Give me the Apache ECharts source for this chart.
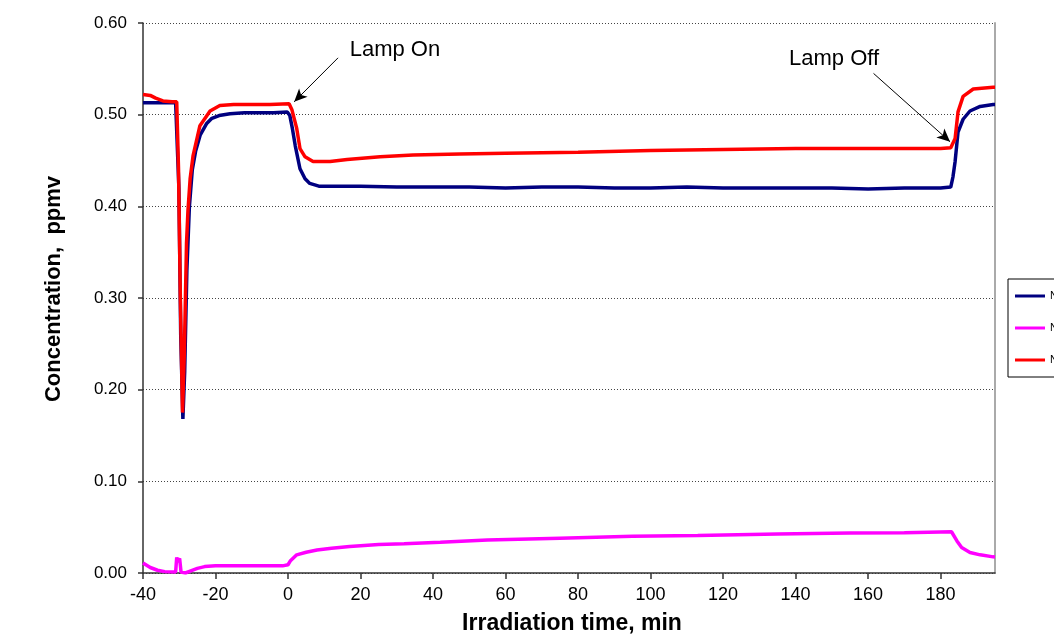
<!DOCTYPE html>
<html>
<head>
<meta charset="utf-8">
<script src="https://cdn.jsdelivr.net/npm/echarts@6/dist/echarts.min.js"></script>
<style>html,body{margin:0;padding:0;background:#fff;}#c{width:1054px;height:640px;}</style>
</head>
<body>
<div id="c"></div>
<script>
const seriesNames = ['NO', 'NO2', 'NOx'];
const xTicks = { min: -40, max: 195, interval: 20 };
const yTicks = { min: 0, max: 0.6, interval: 0.1 };

const NO = [[-40,0.513],[-35,0.513],[-31,0.513],[-30.6,0.513],[-30.1,0.42],[-29.6,0.26],[-29.0,0.168],[-28.5,0.22],[-27.9,0.33],[-27.2,0.40],[-26.4,0.44],[-25.5,0.46],[-24.2,0.478],[-22.5,0.49],[-21,0.496],[-19,0.499],[-16,0.501],[-12,0.502],[-8,0.502],[-4,0.502],[-0.2,0.503],[0.5,0.499],[1.2,0.485],[2,0.466],[3.3,0.441],[4.7,0.430],[6,0.425],[8.5,0.422],[12,0.422],[20,0.422],[30,0.421],[40,0.421],[50,0.421],[60,0.420],[70,0.421],[80,0.421],[90,0.420],[100,0.420],[110,0.421],[120,0.420],[130,0.420],[140,0.420],[150,0.420],[160,0.419],[170,0.420],[180,0.420],[182.8,0.421],[183.4,0.432],[184,0.449],[184.8,0.481],[186.2,0.495],[188.1,0.504],[190.9,0.509],[194.5,0.511],[195,0.511]];

const NO2 = [[-40,0.011],[-38,0.006],[-36,0.003],[-34,0.0015],[-31,0.001],[-30.7,0.017],[-30.4,0.012],[-30.2,0.010],[-29.9,0.016],[-29.5,0.001],[-29,0.001],[-28.3,0.000],[-27,0.002],[-25,0.005],[-23,0.007],[-20,0.008],[-15,0.008],[-10,0.008],[-5,0.008],[-1.5,0.0078],[0,0.009],[0.6,0.013],[2.4,0.0198],[5,0.0226],[8,0.025],[12,0.027],[17,0.029],[25,0.031],[32,0.032],[42,0.0335],[55,0.036],[75,0.038],[95,0.040],[113,0.041],[135,0.0425],[155,0.0437],[170,0.044],[180,0.0448],[183,0.045],[184.5,0.035],[185.8,0.0277],[188.1,0.0223],[190.9,0.0198],[194.5,0.0176],[195,0.0175]];

const NOx = [[-40,0.522],[-38,0.521],[-36.5,0.518],[-34.5,0.515],[-32,0.514],[-30.7,0.514],[-30.2,0.44],[-29.7,0.30],[-29.1,0.175],[-28.6,0.24],[-28.0,0.36],[-27.6,0.395],[-27,0.43],[-26.2,0.455],[-24.3,0.488],[-21.5,0.504],[-18.8,0.510],[-15,0.511],[-10,0.511],[-5,0.511],[0.3,0.512],[1.1,0.505],[2.4,0.485],[3.3,0.463],[4.7,0.454],[6.9,0.449],[11.6,0.449],[16.3,0.451],[25.4,0.454],[34.5,0.456],[47.4,0.457],[60,0.458],[80,0.459],[100,0.461],[120,0.462],[140,0.463],[160,0.463],[180,0.463],[182.8,0.464],[184,0.474],[184.8,0.503],[186.2,0.520],[189,0.528],[194.5,0.530],[195,0.530]];

const lampOnText = { label: 'Lamp On', at: [29.5, 0.571] };
const lampOffText = { label: 'Lamp Off', at: [150.6, 0.561] };
const lampOnArrow = [[13.8, 0.562], [1.7, 0.514]];
const lampOffArrow = [[161.5, 0.545], [182.6, 0.4705]];

const chart = echarts.init(document.getElementById('c'), null, { renderer: 'canvas' });
const FONT = 'Liberation Sans, Arial, sans-serif';

function mkSeries(name, data, color) {
  return {
    name: name, type: 'line', data: data, symbol: 'none', showSymbol: false,
    lineStyle: { color: color, width: 3.5 }, itemStyle: { color: color },
    animation: false, silent: true
  };
}

const sNO = mkSeries(seriesNames[0], NO, '#000080');
const sNO2 = mkSeries(seriesNames[1], NO2, '#FF00FF');
const sNOx = mkSeries(seriesNames[2], NOx, '#FF0000');
sNOx.markLine = {
  silent: true, animation: false,
  symbol: ['none', 'arrow'], symbolSize: [9, 13],
  lineStyle: { color: '#000', width: 1, type: 'solid' },
  label: { show: false },
  data: [
    [{ coord: lampOnArrow[0] }, { coord: lampOnArrow[1] }],
    [{ coord: lampOffArrow[0] }, { coord: lampOffArrow[1] }]
  ]
};
sNOx.markPoint = {
  silent: true, animation: false,
  symbol: 'rect', symbolSize: 1,
  itemStyle: { color: 'rgba(0,0,0,0)' },
  label: { show: true, position: 'inside', color: '#000', fontSize: 22, fontFamily: FONT,
    formatter: p => p.name },
  data: [
    { name: lampOnText.label, coord: lampOnText.at },
    { name: lampOffText.label, coord: lampOffText.at }
  ]
};

chart.setOption({
  backgroundColor: '#fff',
  animation: false,
  textStyle: { fontFamily: FONT },
  grid: { left: 143, right: 59, top: 23, bottom: 61, containLabel: false },
  legend: {
    orient: 'vertical', left: 1008, top: 279,
    data: seriesNames,
    icon: 'rect',
    itemWidth: 30, itemHeight: 3, itemGap: 18,
    padding: [10, 20, 10, 7],
    borderColor: '#000', borderWidth: 1,
    textStyle: { fontSize: 11, lineHeight: 14, color: '#000', fontFamily: FONT },
    selectedMode: false
  },
  xAxis: {
    type: 'value', min: xTicks.min, max: xTicks.max, interval: xTicks.interval,
    name: 'Irradiation time, min', nameLocation: 'middle', nameGap: 39,
    nameTextStyle: { fontSize: 23, fontWeight: 'bold', color: '#000', fontFamily: FONT, padding: [0, 0, 0, 6] },
    axisLine: { show: true, onZero: false, lineStyle: { color: '#333', width: 1.5 } },
    axisTick: { show: true, length: 6, lineStyle: { color: '#333', width: 1.5 } },
    axisLabel: { fontSize: 18, color: '#000', margin: 13, showMaxLabel: false, fontFamily: FONT },
    splitLine: { show: false }
  },
  yAxis: [{
    type: 'value', min: yTicks.min, max: yTicks.max, interval: yTicks.interval,
    name: 'Concentration,  ppmv', nameLocation: 'middle', nameGap: 78,
    nameTextStyle: { fontSize: 22, fontWeight: 'bold', color: '#000', fontFamily: FONT, padding: [0, 0, 0, 18] },
    axisLine: { show: true, onZero: false, lineStyle: { color: '#333', width: 1.5 } },
    axisTick: { show: true, length: 5, lineStyle: { color: '#333', width: 1.5 } },
    axisLabel: { fontSize: 17, color: '#000', margin: 16, formatter: v => v.toFixed(2), fontFamily: FONT },
    splitLine: { show: true, lineStyle: { color: '#444', width: 1, type: [1, 2] } }
  }, {
    type: 'value', min: yTicks.min, max: yTicks.max, interval: yTicks.interval, position: 'right',
    axisLine: { show: true, onZero: false, lineStyle: { color: '#aaa', width: 2 } },
    axisTick: { show: false }, axisLabel: { show: false }, splitLine: { show: false }
  }],
  series: [sNO, sNO2, sNOx]
});
</script>
</body>
</html>
